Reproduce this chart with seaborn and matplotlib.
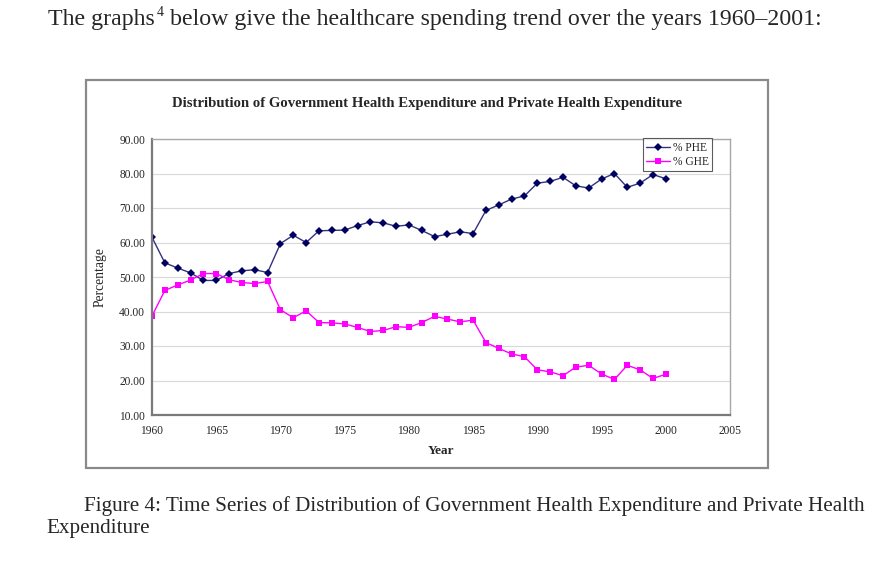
import numpy as np
import pandas as pd
import matplotlib
matplotlib.use("Agg")
import matplotlib.pyplot as plt
import seaborn as sns
from matplotlib.patches import Rectangle
from matplotlib.lines import Line2D

years = list(range(1960, 2001))
phe = [61.5, 54.1, 52.6, 51.2, 49.0, 49.0, 51.0, 51.8, 52.1, 51.3,
       59.7, 62.1, 60.0, 63.4, 63.5, 63.6, 64.9, 66.0, 65.7, 64.7,
       65.1, 63.5, 61.7, 62.4, 63.1, 62.6, 69.3, 70.9, 72.6, 73.5,
       77.2, 77.7, 78.9, 76.4, 75.8, 78.4, 80.0, 76.0, 77.2, 79.7, 78.5]
ghe = [38.7, 46.1, 47.7, 49.1, 51.0, 51.0, 49.2, 48.4, 48.1, 48.7,
       40.5, 38.2, 40.2, 36.8, 36.7, 36.4, 35.4, 34.2, 34.5, 35.6,
       35.4, 36.8, 38.6, 37.8, 37.0, 37.5, 31.0, 29.3, 27.7, 26.9,
       23.1, 22.5, 21.4, 23.9, 24.4, 21.9, 20.3, 24.4, 23.1, 20.6, 21.8]
series_names = ["% PHE", "% GHE"]
x_ticks = list(range(1960, 2006, 5))
y_ticks = list(range(10, 91, 10))

header_pre = "The graphs"
header_sup = "4"
header_post = " below give the healthcare spending trend over the years 1960\u20132001:"
chart_title = "Distribution of Government Health Expenditure and Private Health Expenditure"
caption_1 = "Figure 4: Time Series of Distribution of Government Health Expenditure and Private Health"
caption_2 = "Expenditure"

df = pd.DataFrame({
    "Year": years * 2,
    "value": phe + ghe,
    "series": [series_names[0]] * len(years) + [series_names[1]] * len(years),
})

sns.set_style("white")
plt.rcParams["font.family"] = ["Liberation Serif", "DejaVu Serif"]

W, H = 894, 574
fig = plt.figure(figsize=(W / 100, H / 100), dpi=100)
fig.patch.set_facecolor("white")

def fx(px):
    return px / W

def fy(py):
    return 1 - py / H

# outer chart frame
fig.patches.append(Rectangle((fx(86), fy(468)), fx(768) - fx(86), fy(80) - fy(468),
                             transform=fig.transFigure, fill=False,
                             edgecolor="#8a8a8a", linewidth=1.6, zorder=0))

ax = fig.add_axes([fx(152), fy(415), fx(730) - fx(152), fy(139) - fy(415)])

palette = {"% PHE": "#000080", "% GHE": "#ff00ff"}
markers = {"% PHE": "D", "% GHE": "s"}
sns.lineplot(data=df, x="Year", y="value", hue="series", style="series",
             palette=palette, markers=markers, dashes=False, ax=ax,
             linewidth=1.0, markersize=4.2, markeredgewidth=0, legend=False)
for line in ax.lines:
    if line.get_color() == "#000080":
        line.set_color("#33337f")
        line.set_markerfacecolor("#000060")

ax.set_xlim(1960, 2005)
ax.set_ylim(10, 90)
ax.set_xticks(x_ticks)
ax.set_yticks(y_ticks)
ax.set_yticklabels([f"{v:.2f}" for v in y_ticks])
ax.tick_params(axis="both", labelsize=8.3, length=3, width=1, color="#777777",
               pad=2, direction="out")
ax.tick_params(axis="x", pad=4)
ax.grid(axis="y", color="#d9d9d9", linewidth=0.8)
ax.set_axisbelow(True)
for s in ["left", "bottom"]:
    ax.spines[s].set_color("#7a7a7a")
    ax.spines[s].set_linewidth(1.6)
for s in ["top", "right"]:
    ax.spines[s].set_color("#a8a8a8")
    ax.spines[s].set_linewidth(1.0)

ax.set_xlabel("Year", fontsize=9.5, fontweight="bold", labelpad=6)
ax.set_ylabel("Percentage", fontsize=9.8, labelpad=9)

handles = [Line2D([], [], color="#33337f", marker="D", markersize=4, markeredgewidth=0,
                  markerfacecolor="#000060", linewidth=1.0),
           Line2D([], [], color="#ff00ff", marker="s", markersize=4, markeredgewidth=0,
                  linewidth=1.0)]
leg = ax.legend(handles, series_names, loc="upper left",
                bbox_to_anchor=((643 - 152) / (730 - 152), 1.003),
                fontsize=8.3, frameon=True, fancybox=False, handlelength=2.0,
                handletextpad=0.3, borderpad=0.3, labelspacing=0.2, borderaxespad=0)
leg.get_frame().set_edgecolor("#333333")
leg.get_frame().set_linewidth(0.8)

fig.text(fx(427), fy(103), chart_title, ha="center", va="center",
         fontsize=10.6, fontweight="bold")

# header line with superscript
fig.canvas.draw()
r = fig.canvas.get_renderer()
t1 = fig.text(fx(48), fy(20), header_pre, ha="left", va="center", fontsize=17.2)
bb = t1.get_window_extent(renderer=r)
t2 = fig.text(bb.x1 / W + 0.002, fy(12), header_sup, ha="left", va="center", fontsize=10)
bb2 = t2.get_window_extent(renderer=r)
fig.text(bb2.x1 / W, fy(20), header_post, ha="left", va="center", fontsize=17.2)

fig.text(fx(84), fy(506), caption_1, ha="left", va="center", fontsize=15.2)
fig.text(fx(46), fy(529), caption_2, ha="left", va="center", fontsize=15.2)

fig.savefig("out.png", dpi=100, facecolor="white")
